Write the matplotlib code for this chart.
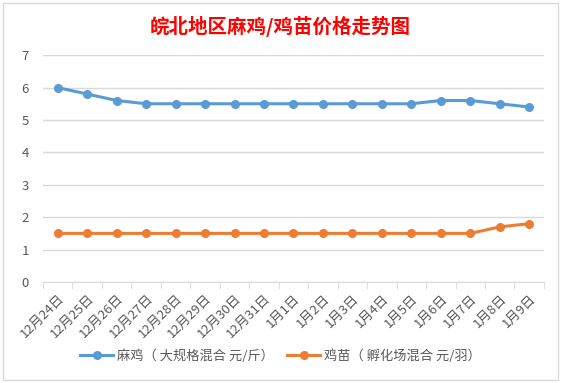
import numpy as np
import matplotlib.pyplot as plt
from matplotlib.patches import Rectangle

plt.rcParams['font.family'] = ['Noto Sans CJK SC', 'DejaVu Sans']

# data
dates = ['12月24日', '12月25日', '12月26日', '12月27日', '12月28日', '12月29日',
         '12月30日', '12月31日', '1月1日', '1月2日', '1月3日', '1月4日',
         '1月5日', '1月6日', '1月7日', '1月8日', '1月9日']
maji = [6.0, 5.8, 5.6, 5.5, 5.5, 5.5, 5.5, 5.5, 5.5, 5.5, 5.5, 5.5,
        5.5, 5.6, 5.6, 5.5, 5.4]
jimiao = [1.5, 1.5, 1.5, 1.5, 1.5, 1.5, 1.5, 1.5, 1.5, 1.5, 1.5, 1.5,
          1.5, 1.5, 1.5, 1.7, 1.8]
label_maji = '麻鸡（ 大规格混合 元/斤）'
label_jimiao = '鸡苗（ 孵化场混合 元/羽）'
title = '皖北地区麻鸡/鸡苗价格走势图'

text_c = '#595959'
grid_c = '#D9D9D9'

fig = plt.figure(figsize=(5.61, 3.83), dpi=100)
fig.patch.set_facecolor('white')
fig.patches.append(Rectangle((0.006, 0.008), 0.988, 0.984, transform=fig.transFigure,
                             fill=False, edgecolor=grid_c, linewidth=1))

ax = fig.add_axes([0.0766, 0.2637, 0.893, 0.5923])
x = np.arange(len(dates))
ax.plot(x, maji, color='#5B9BD5', lw=2.2, marker='o', ms=5.5, label=label_maji)
ax.plot(x, jimiao, color='#ED7D31', lw=2.2, marker='o', ms=5.5, label=label_jimiao)

ax.set_xlim(-0.5, len(dates) - 0.5)
ax.set_ylim(0, 7)
ax.set_yticks(range(8))
ax.grid(axis='y', color=grid_c, lw=1)
ax.set_axisbelow(True)
for s in ['top', 'right', 'left']:
    ax.spines[s].set_visible(False)
ax.spines['bottom'].set_color(grid_c)
ax.tick_params(axis='y', length=0, labelsize=9.5, labelcolor=text_c, pad=10)

ax.set_xticks(x)
ax.set_xticklabels(dates, rotation=45, ha='right', rotation_mode='anchor')
ax.tick_params(axis='x', which='major', length=0, labelsize=9.5, labelcolor=text_c, pad=7)
ax.set_xticks(np.arange(-0.5, len(dates)), minor=True)
ax.tick_params(axis='x', which='minor', length=5, color=grid_c)

fig.text(0.5, 0.93, title, ha='center', va='center', color='red',
         fontsize=14, fontweight='semibold')

fig.legend(loc='center', bbox_to_anchor=(0.5, 0.07), ncol=2, frameon=False,
           fontsize=9.5, labelcolor=text_c, handlelength=2.5, columnspacing=1.0,
           handletextpad=0.3)

fig.savefig('out.png', dpi=100)
